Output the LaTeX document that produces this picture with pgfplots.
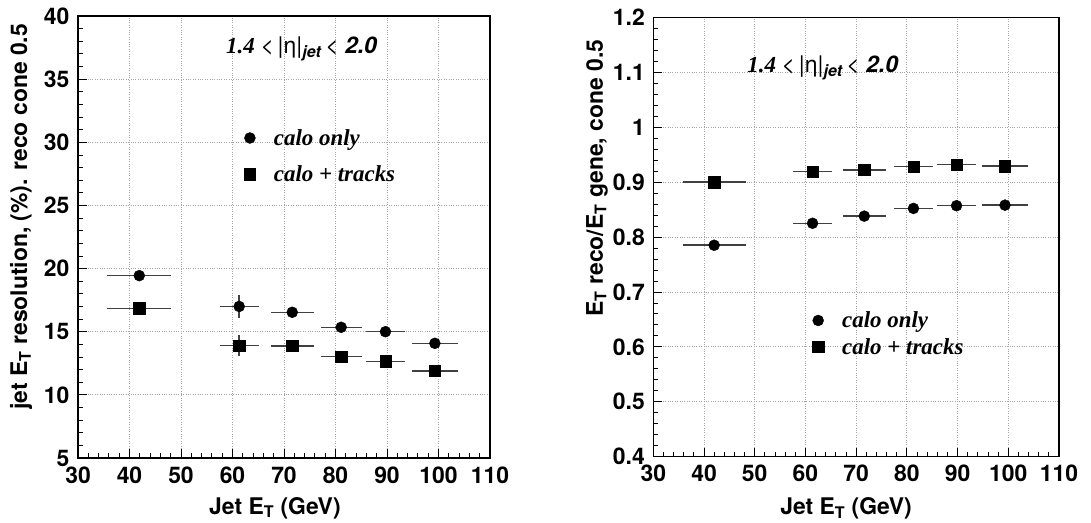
\documentclass[border=0pt]{standalone}
\usepackage{fontspec}
\setmainfont{TeX Gyre Heros}
\newfontfamily\tms{Liberation Serif}
\usepackage{pgfplots}
\pgfplotsset{compat=1.18}

\pgfplotsset{
 myax/.style={
  scale only axis,
  xmin=30, xmax=110,
  xtick={30,40,...,110},
  minor x tick num=4,
  minor y tick num=4,
  tick align=inside,
  xtick pos=bottom, ytick pos=left,
  major tick length=9bp, minor tick length=5bp,
  grid=major,
  major grid style={dotted, black!35, line width=0.8bp},
  axis line style={line width=1.1bp},
  tick style={line width=0.8bp, black},
  ticklabel style={font=\fontsize{23}{26}\selectfont\bfseries},
  xticklabel style={yshift=-5bp},
  yticklabel style={xshift=-5bp},
  /pgf/number format/assume math mode=true,
  label style={font=\fontsize{23}{26}\selectfont\bfseries},
  xlabel={Jet E\textsubscript{T} (GeV)},
  legend cell align=left,
  legend image code/.code={\path[draw=none,fill=none] (-6bp,0bp) -- (22bp,0bp); \draw[##1] plot coordinates {(0bp,0bp)};},
  error bars/x dir=both, error bars/x explicit,
  error bars/y dir=both, error bars/y explicit,
  error bars/error mark=none,
  error bars/error bar style={line width=1.5bp, black!75},
 },
 circ/.style={only marks, mark=*, mark size=5.5bp, black, mark options={fill=black}},
 sq/.style={only marks, mark=square*, mark size=5.7bp, black, mark options={fill=black}},
}

\begin{document}
\begin{tikzpicture}
\useasboundingbox (0,0) rectangle (1091bp,523bp);

% ---------------- left panel ----------------
\begin{axis}[myax,
  at={(78bp,65bp)}, anchor=south west,
  width=412bp, height=442bp,
  ymin=5, ymax=40, ytick={5,10,...,40},
  ylabel={jet E\textsubscript{T} resolution, (\%). reco cone 0.5},
  ylabel style={at={(axis description cs:-0.138,0.99)}, anchor=east},
  xlabel style={at={(axis description cs:0.478,-0.113)}, anchor=center},
  legend style={draw=none, fill=none, at={(axis cs:61.6,28.9)}, anchor=west,
    row sep=15bp, font=\fontsize{23}{26}\selectfont\tms\bfseries\itshape},
]
\addplot[circ] coordinates {
 (41.9,19.44) +- (6.2,0)
 (61.3,17.0) +- (3.8,0.9)
 (71.6,16.54) +- (4.2,0)
 (81.1,15.35) +- (4.0,0)
 (89.7,15.0) +- (3.8,0)
 (99.3,14.08) +- (4.4,0)
};
\addplot[sq] coordinates {
 (41.9,16.85) +- (6.2,0)
 (61.3,13.9) +- (3.8,0.85)
 (71.6,13.87) +- (4.2,0)
 (81.1,13.03) +- (4.0,0)
 (89.7,12.66) +- (3.8,0)
 (99.3,11.89) +- (4.4,0)
};
\legend{calo only, calo + tracks}
\node[anchor=base, font=\fontsize{23}{26}\selectfont\tms] at (axis cs:73.4,37.0)
 {\bfseries\itshape 1.4 \normalfont<\,|η|\textsubscript{\bfseries\itshape jet}\,< \bfseries\itshape 2.0};
\end{axis}

% ---------------- right panel ----------------
\begin{axis}[myax,
  at={(653.3bp,66.3bp)}, anchor=south west,
  width=405.7bp, height=439.4bp,
  ymin=0.4, ymax=1.2, ytick={0.4,0.5,...,1.2},
  yticklabels={0.4,0.5,0.6,0.7,0.8,0.9,1,1.1,1.2},
  ylabel={E\textsubscript{T} reco/E\textsubscript{T} gene, cone 0.5},
  ylabel style={at={(axis description cs:-0.139,0.957)}, anchor=east},
  xlabel style={at={(axis description cs:0.475,-0.117)}, anchor=center},
  legend style={draw=none, fill=none, at={(axis cs:60.7,0.624)}, anchor=west,
    row sep=5bp, font=\fontsize{23}{26}\selectfont\tms\bfseries\itshape},
]
\addplot[circ] coordinates {
 (42.0,0.785) +- (6.2,0)
 (61.4,0.825) +- (3.8,0)
 (71.6,0.838) +- (4.2,0)
 (81.3,0.852) +- (3.9,0)
 (89.8,0.857) +- (3.9,0)
 (99.35,0.858) +- (4.5,0)
};
\addplot[sq] coordinates {
 (42.0,0.90) +- (6.2,0)
 (61.4,0.919) +- (3.8,0)
 (71.6,0.922) +- (4.2,0)
 (81.3,0.928) +- (3.9,0)
 (89.8,0.932) +- (3.9,0)
 (99.35,0.929) +- (4.5,0)
};
\legend{calo only, calo + tracks}
\node[anchor=base, font=\fontsize{23}{26}\selectfont\tms] at (axis cs:63.4,1.099)
 {\bfseries\itshape 1.4 \normalfont<\,|η|\textsubscript{\bfseries\itshape jet}\,< \bfseries\itshape 2.0};
\end{axis}
\end{tikzpicture}
\end{document}
